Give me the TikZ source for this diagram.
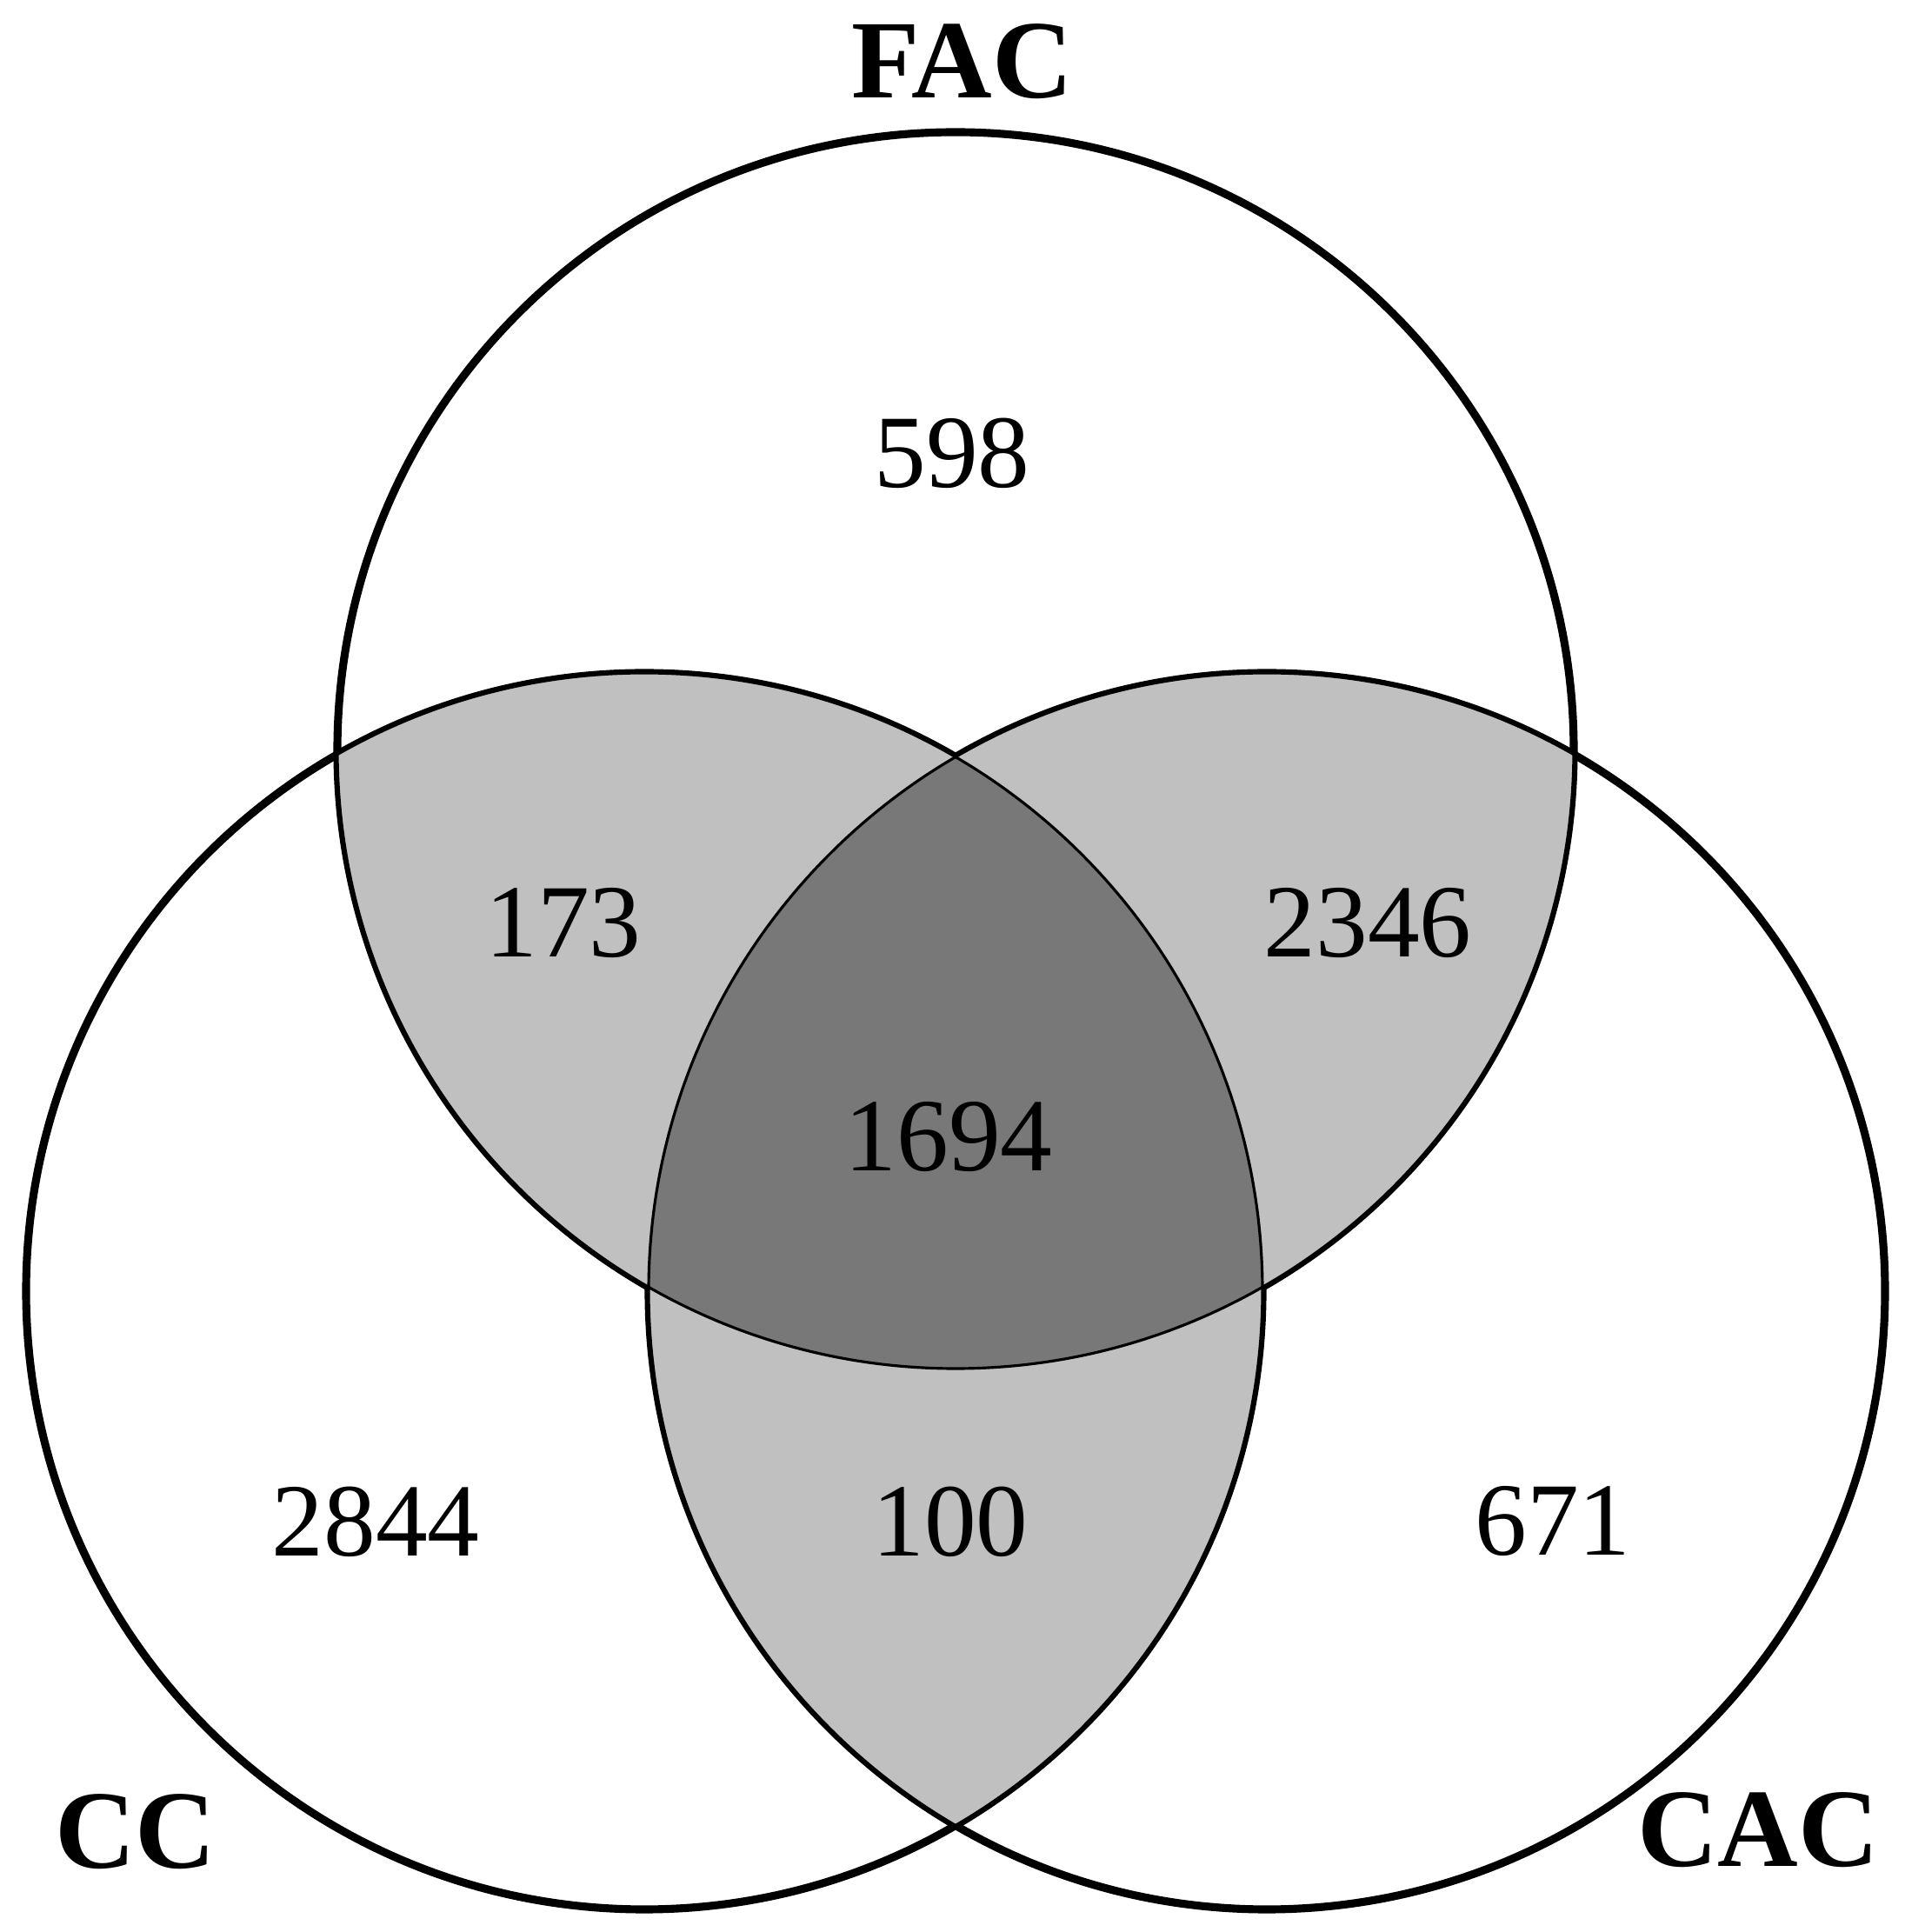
\documentclass[tikz,border=0pt]{standalone}
\usepackage{fontspec}
\setmainfont{Liberation Serif}
\definecolor{lightg}{HTML}{C0C0C0}
\definecolor{darkg}{HTML}{787878}
\begin{document}
\begin{tikzpicture}[
  num/.style={font=\fontsize{34pt}{40pt}\selectfont, inner sep=0pt},
  lab/.style={font=\fontsize{36.5pt}{42pt}\selectfont\bfseries, inner sep=0pt},
  outer/.style={line width=2.6pt},
  inner/.style={line width=0.9pt}
]
\useasboundingbox (0,0) rectangle (21.91,22.22);
\coordinate (F) at (10.99,13.59);
\coordinate (C) at (7.41,7.37);
\coordinate (A) at (14.57,7.37);
\def\R{7.11}
% thick outlines
\draw[outer] (F) circle (\R);
\draw[outer] (C) circle (\R);
\draw[outer] (A) circle (\R);
% pairwise intersections
\begin{scope}\clip (F) circle (\R); \fill[lightg] (C) circle (\R);\end{scope}
\begin{scope}\clip (F) circle (\R); \fill[lightg] (A) circle (\R);\end{scope}
\begin{scope}\clip (C) circle (\R); \fill[lightg] (A) circle (\R);\end{scope}
% triple
\begin{scope}\clip (F) circle (\R); \clip (C) circle (\R); \fill[darkg] (A) circle (\R);\end{scope}
% thin outlines on top
\draw[inner] (F) circle (\R);
\draw[inner] (C) circle (\R);
\draw[inner] (A) circle (\R);
% labels
\node[lab] (lFAC) at (11.07,21.51) {FAC};
\node[lab] (lCC) at (1.56,1.15) {CC};
\node[lab] (lCAC) at (20.22,1.175) {CAC};
% numbers
\node[num] (n598) at (10.95,17.01) {598};
\node[num] (n173) at (6.48,11.60) {173};
\node[num] (n2346) at (15.73,11.60) {2346};
\node[num] (n1694) at (10.91,9.14) {1694};
\node[num] (n2844) at (4.32,4.72) {2844};
\node[num] (n100) at (10.93,4.72) {100};
\node[num] (n671) at (17.86,4.72) {671};
\end{tikzpicture}
\end{document}
